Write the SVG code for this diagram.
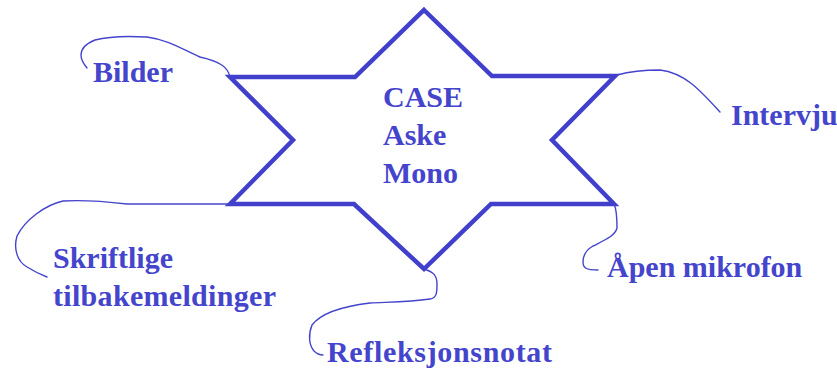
<svg xmlns="http://www.w3.org/2000/svg" width="837" height="371" viewBox="0 0 837 371">
<style>
text{font-family:'Liberation Serif','DejaVu Serif',serif;font-weight:700;font-size:30px;fill:#4444cc}
.c{fill:none;stroke:#4444cc;stroke-width:1.4;stroke-linejoin:round;stroke-linecap:round}
.s{fill:none;stroke:#4040cc;stroke-width:4.5;stroke-linejoin:miter}
</style>
<rect width="837" height="371" fill="#ffffff"/>
<g id="star">
<path class="s" d="M424,10 L492,76 L615,76 L552,140 L614,204 L491,204 L424,269 L354,204 L230,204 L293,140 L230,77 L355,77 Z"/>
<text x="383" y="107">CASE</text>
<text x="383" y="145">Aske</text>
<text x="383" y="183">Mono</text>
</g>
<g id="connectors">
<path class="c" d="M230,77 C228,68 222,62 200,57 C185,51 170,40 147,37 C130,36 110,36 95,40 C85,44 81,49 81,55 C81,61 84,64 87,68"/>
<path class="c" d="M617,75 C628,72 640,70 660,70 C685,73 700,90 720,112"/>
<path class="c" d="M614,204 C617,210 617,220 617,228 C615,236 605,240 593,246 C586,250 583,255 583,262 C583,268 586,270 598,270"/>
<path class="c" d="M424,269 C434,272 437,276 437,284 C437,292 437,298 430,299 C410,302 390,302 370,303 C345,306 322,312 312,325 C308,335 309,345 314,351 C316,353 320,355 323,355"/>
<path class="c" d="M230,204 L127,204 C110,202 80,200 63,201 C45,205 25,220 17,236 C13,250 18,262 27,267 C35,272 42,275 47,277"/>
</g>
<g id="bilder"><text x="93" y="82">Bilder</text></g>
<g id="intervju"><text x="731" y="125">Intervju</text></g>
<g id="apen"><text x="607" y="277">Åpen mikrofon</text></g>
<g id="refleksjon"><text x="327" y="362" textLength="225">Refleksjonsnotat</text></g>
<g id="skriftlige"><text x="53" y="268">Skriftlige</text><text x="53" y="306" textLength="223">tilbakemeldinger</text></g>
</svg>
